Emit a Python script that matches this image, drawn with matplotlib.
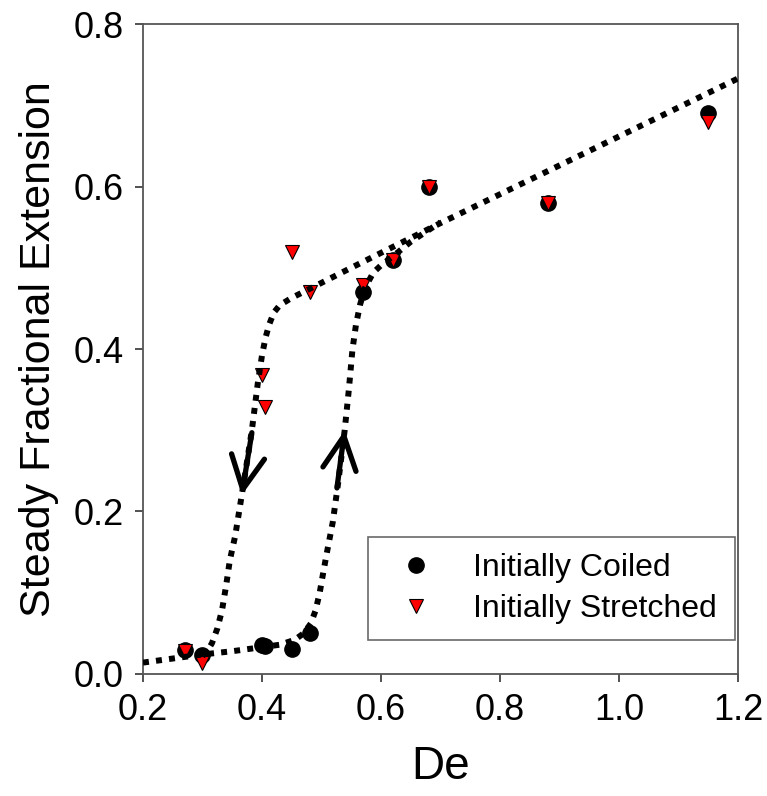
import matplotlib
matplotlib.use("Agg")
import matplotlib.pyplot as plt

plt.rcParams['font.family'] = ['Liberation Sans', 'DejaVu Sans']

# measured points
de_coiled = [0.27, 0.30, 0.40, 0.405, 0.45, 0.48, 0.57, 0.62, 0.68, 0.88, 1.15]
ext_coiled = [0.03, 0.023, 0.036, 0.035, 0.031, 0.05, 0.47, 0.51, 0.60, 0.58, 0.69]

de_stretched = [0.27, 0.30, 0.40, 0.405, 0.45, 0.48, 0.57, 0.62, 0.68, 0.88, 1.15]
ext_stretched = [0.028, 0.013, 0.368, 0.329, 0.519, 0.47, 0.479, 0.51, 0.599, 0.58, 0.68]

# hand drawn guide curves
up_x = [0.20, 0.25, 0.30, 0.35, 0.40, 0.43, 0.455, 0.47, 0.482, 0.49, 0.497, 0.503,
        0.509, 0.519, 0.528, 0.539, 0.546, 0.552, 0.558, 0.565, 0.573, 0.587,
        0.60, 0.62, 0.65, 0.70]
up_y = [0.014, 0.019, 0.024, 0.028, 0.033, 0.036, 0.042, 0.050, 0.062, 0.078, 0.100, 0.125,
        0.149, 0.187, 0.235, 0.300, 0.350, 0.399, 0.430, 0.455, 0.475, 0.494,
        0.503, 0.514, 0.532, 0.556]

down_x = [0.30, 0.308, 0.316, 0.325, 0.333, 0.340, 0.346, 0.355, 0.366, 0.375, 0.383,
          0.393, 0.400, 0.406, 0.412, 0.420, 0.430, 0.45, 0.48, 0.55, 0.70, 0.90, 1.20]
down_y = [0.022, 0.028, 0.038, 0.056, 0.079, 0.110, 0.140, 0.170, 0.220, 0.262, 0.300,
          0.358, 0.392, 0.414, 0.430, 0.445, 0.454, 0.463, 0.474, 0.500, 0.555, 0.626, 0.733]

fig = plt.figure(figsize=(7.67, 7.96), dpi=100)
ax = fig.add_axes([0.1864, 0.1533, 0.7758, 0.8165])

ax.plot(de_coiled, ext_coiled, 'o', color='black', markersize=11,
        label='Initially Coiled', zorder=3)
ax.plot(de_stretched, ext_stretched, 'v', color='red', markeredgecolor='black',
        markeredgewidth=0.8, markersize=10, label='Initially Stretched', zorder=4)

dots = (0, (1.0, 1.2))
ax.plot(up_x, up_y, color='black', lw=4.3, linestyle=dots, dash_capstyle='butt', zorder=5)
ax.plot(down_x, down_y, color='black', lw=4.3, linestyle=dots, dash_capstyle='butt', zorder=5)

arrow = dict(arrowstyle='->,head_length=1.2,head_width=0.6', lw=3.8, color='black',
             mutation_scale=20, shrinkA=0, shrinkB=0)
ax.annotate('', xy=(0.366, 0.22), xytext=(0.383, 0.297), arrowprops=arrow, zorder=6)
ax.annotate('', xy=(0.539, 0.30), xytext=(0.526, 0.229), arrowprops=arrow, zorder=6)

ax.set_xlim(0.2, 1.2)
ax.set_ylim(0.0, 0.8)
ax.set_xticks([0.2, 0.4, 0.6, 0.8, 1.0, 1.2])
ax.set_yticks([0.0, 0.2, 0.4, 0.6, 0.8])
ax.set_xticklabels(['0.2', '0.4', '0.6', '0.8', '1.0', '1.2'])
ax.set_yticklabels(['0.0', '0.2', '0.4', '0.6', '0.8'])
ax.tick_params(direction='out', length=6, width=1.2, labelsize=26, color='#333333', pad=8)

for s in ax.spines.values():
    s.set_color('#555555')
    s.set_linewidth(1.3)

ax.set_xlabel('De', fontsize=33, labelpad=12)
ax.set_ylabel('Steady Fractional Extension', fontsize=31, labelpad=10)

leg = ax.legend(loc='lower left', bbox_to_anchor=(0.378, 0.052, 0.617, 0.162),
                mode='expand', fontsize=23, frameon=True, fancybox=False,
                borderpad=0.5, handletextpad=0.8, handlelength=2.0,
                labelspacing=0.35, borderaxespad=0)
leg.get_frame().set_edgecolor('#444444')
leg.get_frame().set_linewidth(1.2)

fig.savefig('out.png', dpi=100)
